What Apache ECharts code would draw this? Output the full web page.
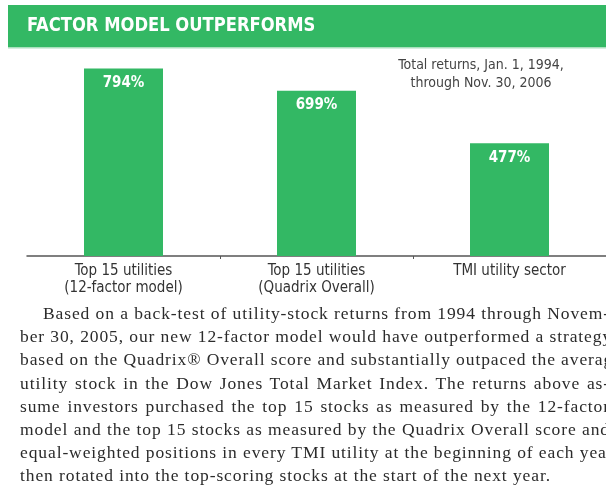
<!DOCTYPE html>
<html>
<head>
<meta charset="utf-8">
<script src="https://cdn.jsdelivr.net/npm/echarts@6/dist/echarts.min.js"></script>
<style>
    html, body { margin: 0; padding: 0; background: #fff; overflow: hidden; }
    #wrap { position: relative; width: 606px; height: 494px; overflow: hidden; }
    #app { position: absolute; left: 0; top: 0; width: 606px; height: 494px; }
    #note {
        position: absolute; left: 20px; top: 302px; width: 590px;
        font-family: "Liberation Serif", "DejaVu Serif", serif;
        font-size: 17.5px; line-height: 23.2px; color: #2b2b2b; letter-spacing: 0.9px;
    }
    #note div { white-space: nowrap; text-align: justify; text-align-last: justify; }
    #note div.first { text-indent: 23px; }
    #note div.last { text-align-last: left; }
</style>
</head>
<body>
<div id="wrap">
    <div id="app"></div>
    <div id="note"></div>
</div>
<script>
    var titleText = 'FACTOR MODEL OUTPERFORMS';
    var subtitleLines = ['Total returns, Jan. 1, 1994,', 'through Nov. 30, 2006'];
    var categories = ['Top 15 utilities\n(12-factor model)', 'Top 15 utilities\n(Quadrix Overall)', 'TMI utility sector'];
    var returns = [794, 699, 477];
    var noteLines = [
        'Based on a back-test of utility-stock returns from 1994 through Novem-',
        'ber 30, 2005, our new 12-factor model would have outperformed a strategy',
        'based on the Quadrix\u00ae Overall score and substantially outpaced the average',
        'utility stock in the Dow Jones Total Market Index. The returns above as-',
        'sume investors purchased the top 15 stocks as measured by the 12-factor',
        'model and the top 15 stocks as measured by the Quadrix Overall score and',
        'equal-weighted positions in every TMI utility at the beginning of each year,',
        'then rotated into the top-scoring stocks at the start of the next year.'
    ];

    var green = '#33b864';
    var narrow = '"Liberation Sans Narrow", "DejaVu Sans Condensed", Arial, sans-serif';

    var note = document.getElementById('note');
    noteLines.forEach(function (t, i) {
        var d = document.createElement('div');
        d.textContent = t;
        if (i === 0) d.className = 'first';
        if (i === noteLines.length - 1) d.className = 'last';
        note.appendChild(d);
    });

    var chart = echarts.init(document.getElementById('app'), null, {renderer: 'canvas'});
    chart.setOption({
        animation: false,
        graphic: [
            {type: 'rect', shape: {x: 8, y: 5, width: 600, height: 42}, style: {fill: green}},
            {type: 'rect', shape: {x: 8, y: 47, width: 600, height: 1.5}, style: {fill: '#a9e0bd'}},
            {
                type: 'text', x: 27, y: 26, scaleX: 0.91,
                style: {
                    text: titleText, fill: '#fff', verticalAlign: 'middle',
                    font: 'bold 20px "DejaVu Sans Condensed", "Liberation Sans Narrow", sans-serif'
                }
            },
            {
                type: 'text', x: 481, y: 56,
                style: {
                    text: subtitleLines.join('\n'), fill: '#444',
                    font: '14px ' + narrow, lineHeight: 18, align: 'center', verticalAlign: 'top'
                }
            }
        ],
        grid: {left: 27, right: 0, top: 67, bottom: 238, containLabel: false},
        xAxis: {
            type: 'category',
            data: categories,
            axisLine: {lineStyle: {color: '#555', width: 1.5}},
            axisTick: {
                show: true, length: 3, lineStyle: {color: '#555'},
                interval: function (i) { return i > 0; }
            },
            axisLabel: {
                margin: 7, fontSize: 15, lineHeight: 17, color: '#333',
                fontFamily: narrow, interval: 0
            }
        },
        yAxis: {type: 'value', min: 0, max: 800, show: false, splitLine: {show: false}},
        series: [{
            type: 'bar',
            data: returns,
            barWidth: 79,
            itemStyle: {color: green},
            label: {
                show: true, position: 'insideTop', distance: 7,
                formatter: '{c}%', color: '#fff', fontWeight: 'bold',
                fontSize: 15, fontFamily: narrow
            }
        }]
    });
</script>
</body>
</html>
